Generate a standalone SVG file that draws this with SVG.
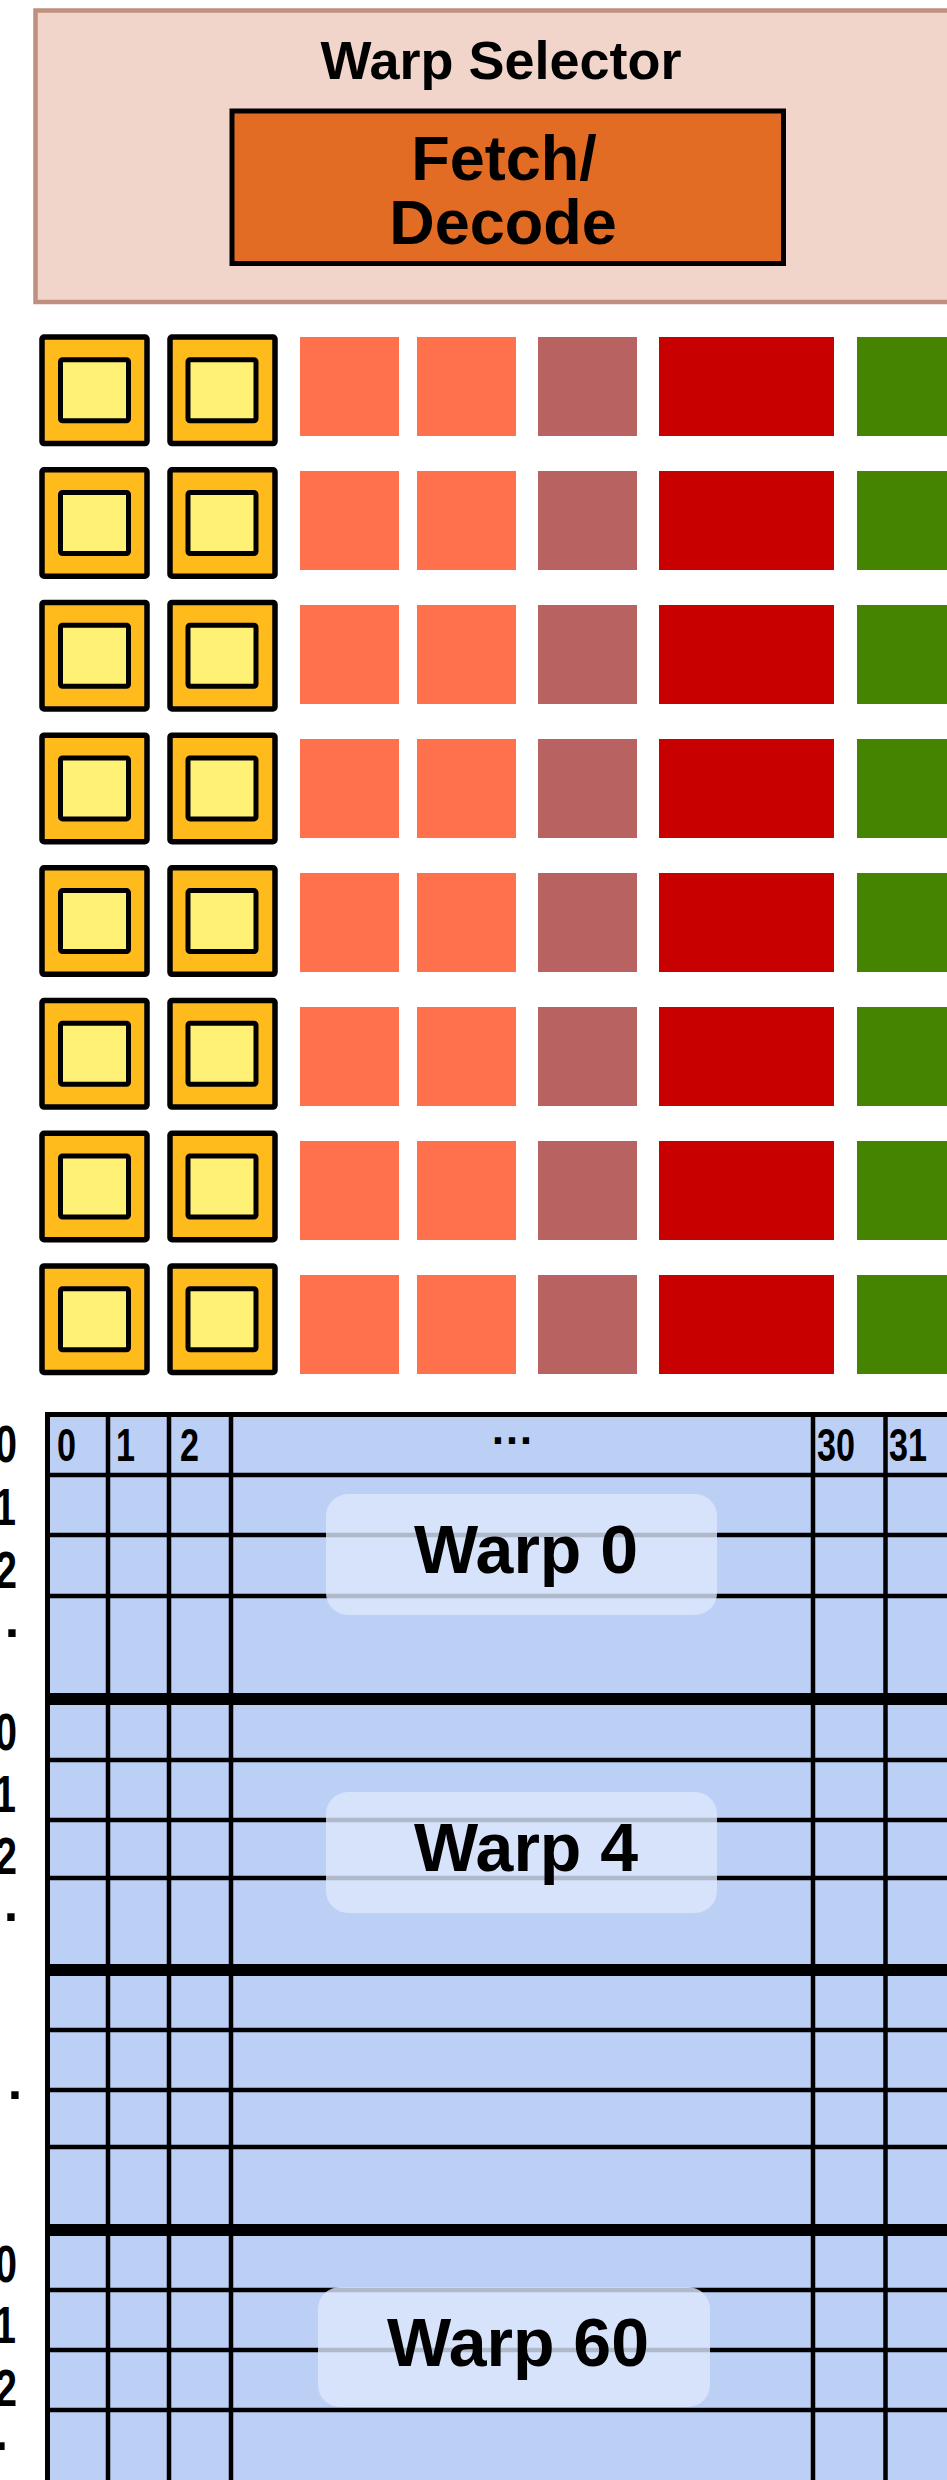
<svg xmlns="http://www.w3.org/2000/svg" width="947" height="2480" viewBox="0 0 947 2480">
<defs>
<style>
.t{font-family:"Liberation Sans",Arial,sans-serif;font-weight:bold;fill:#000}
.ob{fill:#ffba1c;stroke:#000;stroke-width:5.5}
.ib{fill:#fff176;stroke:#000;stroke-width:5}
.s{fill:#ff704d}.m{fill:#b86262}.r{fill:#c80000}.g{fill:#448400}
.gl{stroke:#000;stroke-width:4.5}
.tk{stroke:#000;stroke-width:12}
.lb{fill:#dce7fc;fill-opacity:0.8}
.hd{font-size:46px}
.rl{font-size:52px}
.wl{font-size:68px}
</style>
<g id="unit">
<rect class="ob" x="42" y="2.75" width="105" height="106.5" rx="2"/>
<rect class="ib" x="60.5" y="25.5" width="68" height="61" rx="2"/>
<rect class="ob" x="170" y="2.75" width="105" height="106.5" rx="2"/>
<rect class="ib" x="188" y="25.5" width="68" height="61" rx="2"/>
</g>
<g id="alu">
<rect class="s" x="300" y="0" width="99" height="99"/>
<rect class="s" x="417" y="0" width="99" height="99"/>
<rect class="m" x="538" y="0" width="99" height="99"/>
<rect class="r" x="659" y="0" width="175" height="99"/>
<rect class="g" x="857" y="0" width="100" height="99"/>
</g>
</defs>
<rect width="947" height="2480" fill="#fff"/>

<g id="warp-selector">
<rect x="35.5" y="10.5" width="940" height="291.5" fill="#f2d5ca" stroke="#c0907f" stroke-width="4.5"/>
<text class="t" x="501" y="79" font-size="54" text-anchor="middle">Warp Selector</text>
</g>
<g id="fetch-decode">
<rect x="232" y="111" width="551.5" height="152.5" fill="#e36c24" stroke="#000" stroke-width="5"/>
<text class="t" x="504" y="180" font-size="63" text-anchor="middle">Fetch/</text>
<text class="t" x="503" y="244" font-size="63" text-anchor="middle">Decode</text>
</g>

<g id="units">
<use href="#unit" y="334.3"/><use href="#alu" y="337"/>
<use href="#unit" y="467"/><use href="#alu" y="471"/>
<use href="#unit" y="599.7"/><use href="#alu" y="605"/>
<use href="#unit" y="732.4"/><use href="#alu" y="739"/>
<use href="#unit" y="865.1"/><use href="#alu" y="873"/>
<use href="#unit" y="997.8"/><use href="#alu" y="1007"/>
<use href="#unit" y="1130.5"/><use href="#alu" y="1141"/>
<use href="#unit" y="1263.2"/><use href="#alu" y="1275"/>
</g>

<g id="register-file">
<rect x="47" y="1414" width="920" height="1080" fill="#bccff5"/>
<g id="grid-lines">
<line class="gl" x1="47" y1="1475" x2="960" y2="1475"/>
<line class="gl" x1="47" y1="1535" x2="960" y2="1535"/>
<line class="gl" x1="47" y1="1596" x2="960" y2="1596"/>
<line class="gl" x1="47" y1="1760" x2="960" y2="1760"/>
<line class="gl" x1="47" y1="1820" x2="960" y2="1820"/>
<line class="gl" x1="47" y1="1878" x2="960" y2="1878"/>
<line class="gl" x1="47" y1="2030" x2="960" y2="2030"/>
<line class="gl" x1="47" y1="2090" x2="960" y2="2090"/>
<line class="gl" x1="47" y1="2147" x2="960" y2="2147"/>
<line class="gl" x1="47" y1="2290" x2="960" y2="2290"/>
<line class="gl" x1="47" y1="2350" x2="960" y2="2350"/>
<line class="gl" x1="47" y1="2410" x2="960" y2="2410"/>
<line class="tk" x1="45" y1="1699" x2="960" y2="1699"/>
<line class="tk" x1="45" y1="1970" x2="960" y2="1970"/>
<line class="tk" x1="45" y1="2230" x2="960" y2="2230"/>
<line class="gl" x1="108" y1="1412" x2="108" y2="2480"/>
<line class="gl" x1="169" y1="1412" x2="169" y2="2480"/>
<line class="gl" x1="231" y1="1412" x2="231" y2="2480"/>
<line class="gl" x1="813" y1="1412" x2="813" y2="2480"/>
<line class="gl" x1="885.5" y1="1412" x2="885.5" y2="2480"/>
<line stroke="#000" stroke-width="5" x1="47.5" y1="1412" x2="47.5" y2="2480"/>
<line stroke="#000" stroke-width="5" x1="45" y1="1414.5" x2="960" y2="1414.5"/>
</g>
<g id="lane-labels">
<text class="t hd" x="57" y="1461" textLength="19" lengthAdjust="spacingAndGlyphs">0</text>
<text class="t hd" x="116" y="1461" textLength="19" lengthAdjust="spacingAndGlyphs">1</text>
<text class="t hd" x="180" y="1461" textLength="19" lengthAdjust="spacingAndGlyphs">2</text>
<text class="t" x="512" y="1444" font-size="44" text-anchor="middle">…</text>
<text class="t hd" x="817" y="1461" textLength="38" lengthAdjust="spacingAndGlyphs">30</text>
<text class="t hd" x="889" y="1461" textLength="38" lengthAdjust="spacingAndGlyphs">31</text>
</g>
<g id="row-labels">
<text class="t rl" x="17" y="1462" text-anchor="end" textLength="22" lengthAdjust="spacingAndGlyphs">0</text>
<text class="t rl" x="16" y="1525" text-anchor="end" textLength="22" lengthAdjust="spacingAndGlyphs">1</text>
<text class="t rl" x="17" y="1588" text-anchor="end" textLength="22" lengthAdjust="spacingAndGlyphs">2</text>
<text class="t rl" x="12" y="1637" text-anchor="middle">.</text>
<text class="t rl" x="17" y="1750" text-anchor="end" textLength="22" lengthAdjust="spacingAndGlyphs">0</text>
<text class="t rl" x="16" y="1812" text-anchor="end" textLength="22" lengthAdjust="spacingAndGlyphs">1</text>
<text class="t rl" x="17" y="1874" text-anchor="end" textLength="22" lengthAdjust="spacingAndGlyphs">2</text>
<text class="t rl" x="11" y="1921" text-anchor="middle">.</text>
<text class="t rl" x="15" y="2099" text-anchor="middle">.</text>
<text class="t rl" x="17" y="2282" text-anchor="end" textLength="22" lengthAdjust="spacingAndGlyphs">0</text>
<text class="t rl" x="16" y="2343" text-anchor="end" textLength="22" lengthAdjust="spacingAndGlyphs">1</text>
<text class="t rl" x="17" y="2406" text-anchor="end" textLength="22" lengthAdjust="spacingAndGlyphs">2</text>
<text class="t rl" x="1" y="2450" text-anchor="middle">.</text>
</g>
</g>

<g id="warp0">
<rect class="lb" x="326" y="1494" width="391" height="121" rx="22"/>
<text class="t wl" x="526" y="1573" text-anchor="middle">Warp 0</text>
</g>
<g id="warp4">
<rect class="lb" x="326" y="1792" width="391" height="121" rx="22"/>
<text class="t wl" x="526" y="1871" text-anchor="middle">Warp 4</text>
</g>
<g id="warp60">
<rect class="lb" x="318" y="2287" width="392" height="120" rx="22"/>
<text class="t wl" x="518" y="2366" text-anchor="middle">Warp 60</text>
</g>
</svg>
